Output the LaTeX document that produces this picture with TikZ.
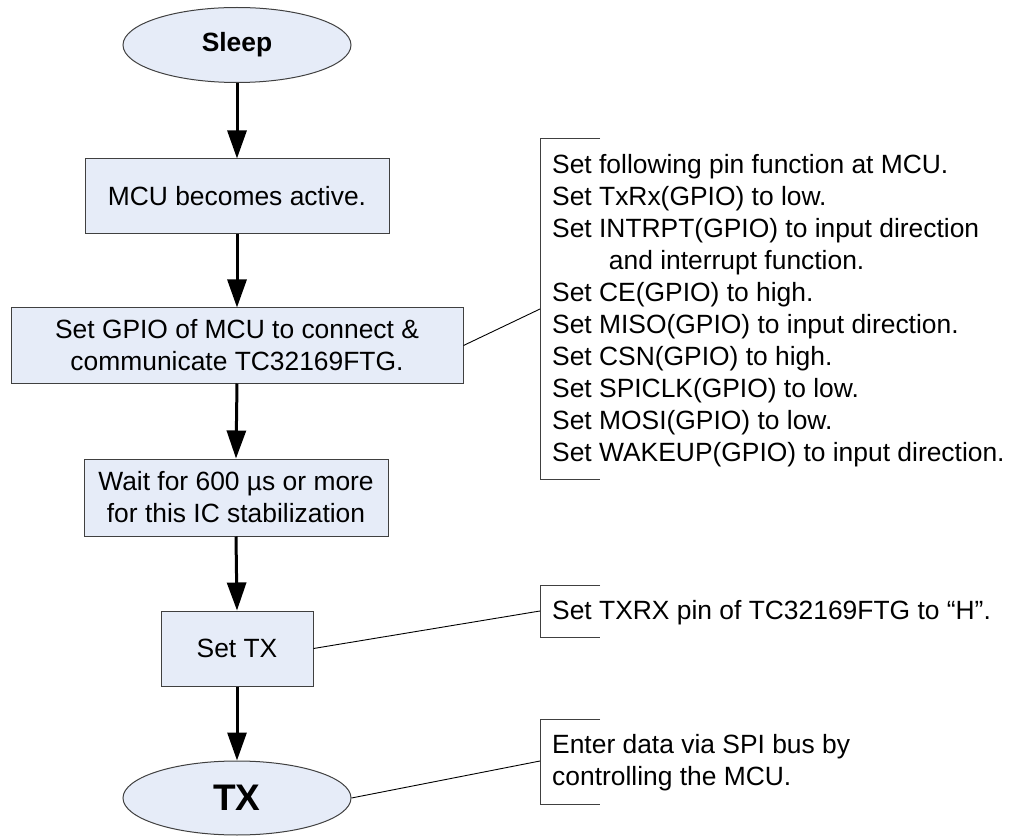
\documentclass[tikz,border=0pt]{standalone}
\usepackage{fontspec}
\setmainfont{Liberation Sans}
\usepackage{tikz}
\usetikzlibrary{arrows.meta}
\usetikzlibrary{shapes.geometric}

\definecolor{boxfill}{RGB}{230,236,248}
\definecolor{boxline}{RGB}{64,64,64}

\begin{document}
\begin{tikzpicture}[x=1pt,y=-1pt,
	txt/.style={font=\fontsize{26.4}{32}\selectfont},
	flowstate/.style={ellipse,draw=boxline,fill=boxfill,line width=1pt,inner sep=0pt,minimum width=228pt,minimum height=75pt},
	stepbox/.style={rectangle,draw=boxline,fill=boxfill,line width=1pt,inner sep=0pt,align=center,txt},
	flowarrow/.style={line width=3pt,-{Triangle[length=28pt,width=19pt]}},
	notetext/.style={anchor=west,inner sep=0pt,align=left,txt},
	notebracket/.style={draw=boxline,line width=1pt},
	leadline/.style={line width=0.9pt}]
	\useasboundingbox (0,0) rectangle (1013,837);

	%Start state
	\node [flowstate,font=\fontsize{26.4}{32}\selectfont\bfseries] (sleep) at (237,45) {Sleep};

	%Steps of the flow
	\node [stepbox,minimum width=304pt,minimum height=75pt] (mcu) at (237,196.5) {MCU becomes active.};
	\node [stepbox,minimum width=452pt,minimum height=75pt] (gpio) at (237,345.5) {Set GPIO of MCU to connect \&\\communicate TC32169FTG.};
	\node [stepbox,minimum width=304pt,minimum height=77pt] (wait) at (236,497.5) {Wait for 600 µs or more\\for this IC stabilization};
	\node [stepbox,minimum width=152pt,minimum height=75pt] (settx) at (237,648.5) {Set TX};

	%End state
	\node [flowstate,minimum height=74pt,font=\fontsize{37}{40}\selectfont\bfseries] (tx) at (237,798) {TX};

	%Arrows of the flow
	\draw [flowarrow] (sleep.south) -- (mcu.north);
	\draw [flowarrow] (mcu.south) -- (gpio.north);
	\draw [flowarrow] (gpio.south) -- (wait.north);
	\draw [flowarrow] (wait.south) -- (settx.north);
	\draw [flowarrow] (settx.south) -- (tx.north);

	%Note on the GPIO setting
	\draw [notebracket] (600,139) -- (540,139) -- (540,479) -- (600,479);
	\coordinate (pinbr) at (540,309);
	\node [notetext] (pinnote) at (552,311) {Set following pin function at MCU.\\
		Set TxRx(GPIO) to low.\\
		Set INTRPT(GPIO) to input direction\\
		\hspace*{2.15em}and interrupt function.\\
		Set CE(GPIO) to high.\\
		Set MISO(GPIO) to input direction.\\
		Set CSN(GPIO) to high.\\
		Set SPICLK(GPIO) to low.\\
		Set MOSI(GPIO) to low.\\
		Set WAKEUP(GPIO) to input direction.};
	\draw [leadline] (gpio.east) -- (pinbr);

	%Note on Set TX
	\draw [notebracket] (600,585) -- (540,585) -- (540,637) -- (600,637);
	\coordinate (txrxbr) at (540,611);
	\node [notetext] (txrxnote) at (552,613) {Set TXRX pin of TC32169FTG to “H”.};
	\draw [leadline] (settx.east) -- (txrxbr);

	%Note on TX
	\draw [notebracket] (600,719) -- (540,719) -- (540,804) -- (600,804);
	\coordinate (spibr) at (540,761);
	\node [notetext] (spinote) at (552,763) {Enter data via SPI bus by\\controlling the MCU.};
	\draw [leadline] (tx.east) -- (spibr);
\end{tikzpicture}
\end{document}
